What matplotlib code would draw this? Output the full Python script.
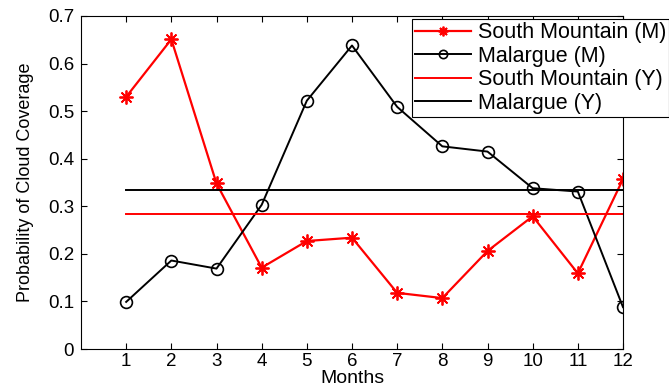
import matplotlib
matplotlib.use("Agg")
import matplotlib.pyplot as plt

plt.rcParams['font.family'] = ['Liberation Sans', 'DejaVu Sans']

months = [1, 2, 3, 4, 5, 6, 7, 8, 9, 10, 11, 12]
south_mountain_m = [0.530, 0.651, 0.348, 0.171, 0.227, 0.234, 0.118, 0.107, 0.206, 0.279, 0.159, 0.357]
malargue_m = [0.099, 0.186, 0.169, 0.303, 0.522, 0.638, 0.509, 0.426, 0.415, 0.338, 0.331, 0.088]
south_mountain_y = 0.283
malargue_y = 0.335

fig = plt.figure(figsize=(6.69, 3.92), dpi=100)
ax = fig.add_axes([81/669, 1 - 349/392, (623 - 81)/669, (349 - 16)/392])

# MATLAB-style asterisk: 8 arms
ax.plot(months, south_mountain_m, color='red', linewidth=1.6, marker=(8, 2, 0),
        markersize=10, markeredgewidth=1.3, label='South Mountain (M)')
ax.plot(months, malargue_m, color='black', linewidth=1.4, marker='o',
        markersize=8.5, markerfacecolor='none', markeredgewidth=1.2, label='Malargue (M)')
ax.plot([months[0], months[-1]], [south_mountain_y] * 2, color='red', linewidth=1.4,
        label='South Mountain (Y)')
ax.plot([months[0], months[-1]], [malargue_y] * 2, color='black', linewidth=1.4,
        label='Malargue (Y)')

ax.set_xlim(0, 12)
ax.set_ylim(0, 0.7)
ax.set_xticks(months)
ax.set_yticks([0, 0.1, 0.2, 0.3, 0.4, 0.5, 0.6, 0.7])
ax.set_yticklabels(['0', '0.1', '0.2', '0.3', '0.4', '0.5', '0.6', '0.7'])
ax.tick_params(direction='in', top=True, right=True, labelsize=13.5, length=4, pad=5)
ax.tick_params(axis='x', pad=3)
ax.set_xlabel('Months', fontsize=14, labelpad=0)
ax.set_ylabel('Probability of Cloud Coverage', fontsize=13, labelpad=10)

leg = ax.legend(loc='upper left', bbox_to_anchor=(412/669, 1 - 19/392),
                bbox_transform=fig.transFigure, fontsize=15.5, frameon=True,
                fancybox=False, handlelength=2.6, handletextpad=0.3, markerscale=0.7,
                borderaxespad=0, borderpad=0.15, labelspacing=0.12)
leg.get_frame().set_edgecolor('black')
leg.get_frame().set_linewidth(0.8)
leg.get_frame().set_alpha(1)

fig.savefig('out.png', dpi=100)
